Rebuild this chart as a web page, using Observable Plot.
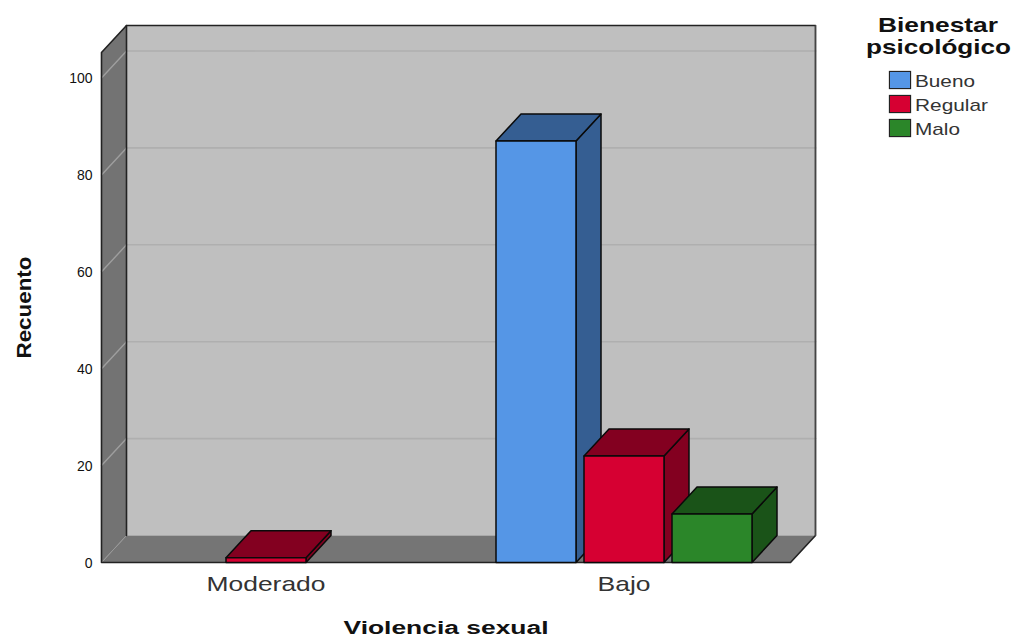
<!DOCTYPE html>
<html><head><meta charset="utf-8">
<script src="https://cdn.jsdelivr.net/npm/d3@7"></script>
<script src="https://cdn.jsdelivr.net/npm/@observablehq/plot@0.6"></script>
<style>
html,body{margin:0;padding:0;background:#fff}
#wrap{position:relative;width:1013px;height:638px;font-family:"Liberation Sans",Arial,sans-serif;overflow:hidden}
#wrap svg{display:block}
.lt{position:absolute;white-space:nowrap;font-weight:bold;color:#111;font-size:21px;line-height:24px;transform-origin:left top}
.sw{position:absolute;left:889px;width:20px;height:16px;border:1.5px solid #222;box-shadow:0 0 1px #444}
.ll{position:absolute;left:915px;white-space:nowrap;color:#333;font-size:17px;line-height:20px;transform-origin:left top}
</style></head>
<body><div id="wrap"></div>
<script>
const categories = ["Moderado", "Bajo"];
const series = ["Bueno", "Regular", "Malo"];
const bueno = [0, 87];
const regular = [1, 22];
const malo = [0, 10];
const seriesValues = [bueno, regular, malo];
const frontColors = ["#5596E6", "#D60032", "#2B8629"];
const shadeColors = ["#355E92", "#830020", "#1A5318"];
const yTicks = [0, 20, 40, 60, 80, 100];

// layout, in scale units
const W = 1013, H = 638;
const L = 101, R = 197, T = 25, B = 76;
const catStep = 358, catZero = 265.5, yPer = 4.845;
const xDomain = [(L - catZero) / catStep, (W - R - catZero) / catStep];
const yMax = (H - B - T) / yPer;
const dX = 25 / catStep, dY = 27 / yPer;
const barW = 80 / catStep, barStep = 88 / catStep;
const xFrontRight = (790 - catZero) / catStep;
const xL = xDomain[0], xB = xL + dX, xR = xFrontRight, xRB = xR + dX;

function face(pts, fill, stroke, sw = 1.5) {
  const closed = [...pts, pts[0]];
  return Plot.line(closed, {x: d => d[0], y: d => d[1], fill, stroke, strokeWidth: sw, strokeLinejoin: "round"});
}
function seg(pts, stroke, sw = 1.5) {
  return Plot.line(pts, {x: d => d[0], y: d => d[1], stroke, strokeWidth: sw});
}

const marks = [];
// back wall, left wall, floor
marks.push(face([[xB, dY], [xRB, dY], [xRB, yMax], [xB, yMax]], "#BFBFBF", "none"));
marks.push(face([[xL, 0], [xB, dY], [xB, yMax], [xL, yMax - dY]], "#737373", "none"));
marks.push(face([[xL, 0], [xR, 0], [xRB, dY], [xB, dY]], "#757575", "none"));
// grid
for (const t of yTicks.slice(1)) {
  marks.push(seg([[xB, t + dY], [xRB, t + dY]], "#AFAFAF", 1.6));
  marks.push(seg([[xL, t], [xB, t + dY]], "#9E9E9E", 1.4));
}
marks.push(seg([[xL, 0], [xB, dY]], "#9A9A9A", 1));
// frame edges
marks.push(seg([[xL, 0], [xL, yMax - dY], [xB, yMax], [xRB, yMax], [xRB, dY], [xR, 0], [xL, 0]], "#222", 1.6));
marks.push(seg([[xB, dY], [xB, yMax]], "#222", 1.6));
marks.push(seg([[xRB, dY], [xRB, yMax]], "#444", 1.2));
// bars
categories.forEach((c, ci) => {
  series.forEach((s, si) => {
    const v = seriesValues[si][ci];
    if (!v) return;
    const x1 = ci + (si - 1) * barStep - barW / 2, x2 = x1 + barW;
    marks.push(face([[x2, 0], [x2 + dX, dY], [x2 + dX, v + dY], [x2, v]], shadeColors[si], "#0a0a0a"));
    marks.push(face([[x1, v], [x2, v], [x2 + dX, v + dY], [x1 + dX, v + dY]], shadeColors[si], "#0a0a0a"));
    marks.push(face([[x1, 0], [x2, 0], [x2, v], [x1, v]], frontColors[si], "#0a0a0a"));
  });
});
// axes
marks.push(Plot.axisY({ticks: yTicks, tickSize: 0, tickPadding: 9, dy: 1, fontSize: 14, label: null, color: "#111"}));
marks.push(Plot.axisX({ticks: [0, 1], tickFormat: i => categories[i], tickSize: 0, tickPadding: 14, fontSize: 21, label: null, color: "#333"}));
marks.push(Plot.text(["Violencia sexual"], {x: (xL + xR) / 2, frameAnchor: "bottom", textAnchor: "middle", dy: 71, fontWeight: "bold", fontSize: 18, fill: "#111", text: d => d}));
marks.push(Plot.text(["Recuento"], {y: (yMax - dY) / 2, frameAnchor: "left", textAnchor: "middle", dx: -77, rotate: -90, fontWeight: "bold", fontSize: 20, fill: "#111", text: d => d}));

const chart = Plot.plot({
  width: W, height: H, marginLeft: L, marginRight: R, marginTop: T, marginBottom: B,
  style: {fontFamily: '"Liberation Sans",Arial,sans-serif', background: "#fff", overflow: "visible"},
  x: {type: "linear", domain: xDomain, axis: null},
  y: {type: "linear", domain: [0, yMax], axis: null},
  marks
});
const wrap = document.getElementById("wrap");
wrap.appendChild(chart);

// horizontal stretch to match the reference's wide text
function stretch(match, len) {
  chart.querySelectorAll("text").forEach(t => {
    if (t.textContent === match) { t.setAttribute("textLength", len); t.setAttribute("lengthAdjust", "spacingAndGlyphs"); }
  });
}
stretch("Moderado", 119); stretch("Bajo", 53); stretch("Violencia sexual", 205); stretch("Recuento", 102);

// legend
const legendTitle = [["Bienestar", 878, 13, 120], ["psicológico", 866, 35, 145]];
function addText(cls, txt, left, top, targetW) {
  const e = document.createElement("div");
  e.className = cls; e.textContent = txt; e.style.left = left + "px"; e.style.top = top + "px";
  wrap.appendChild(e);
  const w = e.getBoundingClientRect().width;
  e.style.transform = `scaleX(${targetW / w})`;
}
legendTitle.forEach(d => addText("lt", d[0], d[1], d[2], d[3]));
const swatchTop = [71, 95, 119], legendW = [60, 73, 45];
series.forEach((s, i) => {
  const b = document.createElement("div");
  b.className = "sw"; b.style.top = swatchTop[i] + "px"; b.style.background = frontColors[i];
  wrap.appendChild(b);
  addText("ll", s, 915, swatchTop[i] + 1, legendW[i]);
});
</script></body></html>
